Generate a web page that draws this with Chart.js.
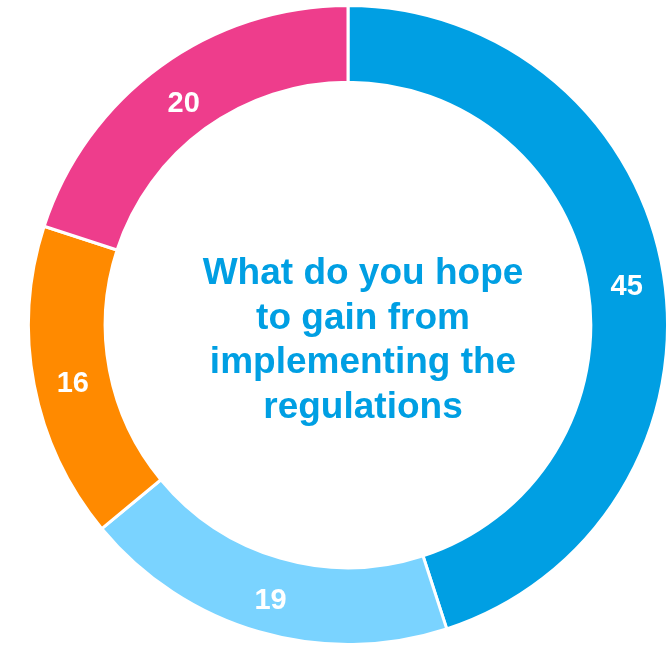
<!DOCTYPE html>
<html>
<head>
<meta charset="utf-8">
<script src="https://cdn.jsdelivr.net/npm/chart.js@4.4.1/dist/chart.umd.min.js"></script>
<style>
  html, body { margin: 0; padding: 0; background: #ffffff; }
  #wrap { width: 671px; height: 646px; }
</style>
</head>
<body>
<div id="wrap"><canvas id="donut"></canvas></div>
<script>
// Segment data, clockwise from 12 o'clock
const segments = ['Segment 1', 'Segment 2', 'Segment 3', 'Segment 4'];
const values = [45, 19, 16, 20];
const colors = ['#009FE3', '#7AD3FF', '#FF8A00', '#EE3D8C'];

// Question shown in the hole of the doughnut
const centerLines = ['What do you hope', 'to gain from', 'implementing the', 'regulations'];

const FONT = '"Liberation Sans", Arial, sans-serif';

// Draws the value of each slice in the middle of its arc
const sliceLabels = {
    id: 'sliceLabels',
    afterDatasetsDraw(chart) {
        const ctx = chart.ctx;
        const meta = chart.getDatasetMeta(0);
        ctx.save();
        ctx.font = 'bold 29px ' + FONT;
        ctx.fillStyle = '#ffffff';
        ctx.textAlign = 'center';
        ctx.textBaseline = 'middle';
        meta.data.forEach((arc, i) => {
            const p = arc.tooltipPosition();
            ctx.fillText(String(values[i]), p.x + 1, p.y + 6);
        });
        ctx.restore();
    }
};

// Writes the question in the center
const centerText = {
    id: 'centerText',
    afterDraw(chart) {
        const ctx = chart.ctx;
        const arc = chart.getDatasetMeta(0).data[0];
        const cx = arc.x + 15;
        const cy = arc.y;
        ctx.save();
        ctx.font = 'bold 37px ' + FONT;
        ctx.fillStyle = '#009FE3';
        ctx.textAlign = 'center';
        ctx.textBaseline = 'alphabetic';
        centerLines.forEach((line, i) => {
            ctx.fillText(line, cx, cy - 41 + i * 44.5);
        });
        ctx.restore();
    }
};

new Chart(document.getElementById('donut'), {
    type: 'doughnut',
    data: {
        labels: segments,
        datasets: [{
            data: values,
            backgroundColor: colors,
            borderColor: '#ffffff',
            borderWidth: 3
        }]
    },
    options: {
        responsive: true,
        maintainAspectRatio: false,
        animation: false,
        cutout: '76%',
        layout: {
            padding: { left: 26, right: 1, top: 4, bottom: 0 }
        },
        plugins: {
            legend: { display: false },
            tooltip: { enabled: false }
        }
    },
    plugins: [sliceLabels, centerText]
});
</script>
</body>
</html>
